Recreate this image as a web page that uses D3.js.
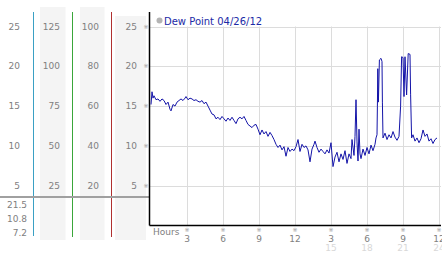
<!DOCTYPE html>
<html>
<head>
	<script src="https://cdn.jsdelivr.net/npm/d3@7"></script>
	<style>
		body { margin: 0; background: #fff; }
		text { font-family: "DejaVu Sans", Verdana, sans-serif; }
	</style>
</head>
<body>
	<div id="chart"></div>
	<script>
		/* DATA */
		var title = "Dew Point 04/26/12";
		var scaleTicks = [25, 20, 15, 10, 5];        // first and last column
		var col2Ticks = [125, 100, 75, 50, 25];
		var col3Ticks = [100, 80, 60, 40, 20];
		var footerLabels = ["21.5", "10.8", "7.2"];
		var hourTicks = [3, 6, 9, 12, 15, 18, 21, 24];

		// minutes after midnight
		var minutes = [0, 5, 10, 15, 25, 35, 45, 55, 65, 75, 85, 95, 100, 110, 120, 130, 140, 150, 160, 170,
			175, 185, 195, 205, 215, 225, 235, 245, 255, 265, 275, 285, 295, 305, 315, 325, 335, 345, 355, 365,
			375, 385, 395, 405, 415, 425, 435, 445, 455, 465, 475, 485, 495, 505, 515, 525, 535, 545, 555, 565,
			575, 585, 595, 605, 615, 625, 635, 645, 655, 665, 675, 685, 695, 705, 715, 725, 735, 745, 755, 765,
			775, 785, 795, 805, 815, 820, 830, 840, 850, 860, 870, 880, 890, 900, 910, 920, 930, 940, 950, 960,
			970, 980, 990, 1000, 1005, 1015, 1020, 1025, 1030, 1035, 1040, 1045, 1050, 1060, 1070, 1080, 1090, 1100, 1110, 1120,
			1125, 1130, 1132, 1134, 1137, 1142, 1150, 1155, 1157, 1160, 1170, 1180, 1190, 1200, 1210, 1220, 1230, 1240, 1248, 1253,
			1260, 1265, 1270, 1278, 1286, 1295, 1298, 1303, 1310, 1320, 1330, 1340, 1350, 1360, 1370, 1380, 1390, 1400, 1410, 1420, 1430];
		var dewPoint = [15.2, 16.8, 16.0, 16.3, 15.8, 15.9, 15.6, 15.9, 15.7, 15.2, 15.5, 14.6, 14.4, 15.2, 15.0, 15.5, 15.7, 15.9, 15.7, 16.0,
			16.2, 15.8, 16.0, 15.9, 15.7, 15.8, 15.6, 15.5, 15.7, 15.3, 15.5, 15.0, 14.5, 14.0, 13.9, 13.4, 13.6, 13.3, 13.7, 13.4,
			13.1, 13.5, 13.2, 13.6, 13.2, 12.8, 13.4, 13.6, 13.4, 13.7, 13.2, 12.7, 12.5, 12.3, 12.6, 12.7, 12.1, 11.4, 12.0, 11.5,
			11.8, 11.2, 11.7, 11.3, 10.8, 10.2, 9.8, 10.1, 9.5, 9.9, 8.7, 9.8, 9.3, 9.6, 9.4, 9.9, 10.8, 9.3, 10.2, 9.8,
			10.0, 9.5, 8.0, 9.6, 10.2, 10.6, 9.8, 9.2, 9.6, 9.3, 9.0, 9.5, 9.1, 10.4, 7.4, 8.6, 9.2, 8.0, 9.0, 8.3,
			9.4, 7.8, 9.0, 8.4, 10.8, 8.8, 11.2, 15.8, 10.5, 8.1, 12.1, 9.0, 8.4, 9.6, 8.8, 9.8, 9.0, 10.1, 9.4, 10.2,
			11.0, 11.4, 15.0, 19.7, 15.5, 20.8, 21.0, 20.6, 15.5, 11.0, 11.6, 10.8, 11.4, 11.0, 11.8, 11.1, 10.7, 11.2, 15.0, 21.2,
			21.1, 16.2, 21.2, 16.4, 21.6, 21.5, 16.5, 11.0, 11.4, 10.6, 11.0, 10.4, 10.9, 12.0, 11.2, 11.5, 10.6, 10.9, 10.3, 10.8, 11.0];

		var series = minutes.map(function(m, i) { return { t: m, v: dewPoint[i] }; });

		/* LAYOUT */
		var width = 442, height = 253;
		var plotLeft = 149.5, plotRight = 441, plotTop = 12, plotBottom = 225.5;

		var svg = d3.select("#chart").append("svg")
			.attr("width", width)
			.attr("height", height);

		var y = d3.scaleLinear().domain([0, 25]).range([225.5, 26.5]);
		var x = d3.scaleLinear().domain([0, 1440]).range([151, 439]);

		/* LEFT SCALE COLUMNS */
		var columns = [
			{ ticks: scaleTicks, max: 25, textX: 20, bg: null },
			{ ticks: col2Ticks, max: 125, textX: 60, bg: [40, 65.5, 7] },
			{ ticks: col3Ticks, max: 100, textX: 99, bg: [80, 104.5, 7] },
			{ ticks: scaleTicks, max: 25, textX: 137, bg: [115, 146, 16] }
		];

		columns.forEach(function(c) {
			if (c.bg) {
				svg.append("rect")
					.attr("x", c.bg[0]).attr("y", c.bg[2])
					.attr("width", c.bg[1] - c.bg[0])
					.attr("height", 240 - c.bg[2])
					.attr("fill", "#f4f4f4");
			}
		});

		var separators = [[33.5, "#3aa0c4", 236], [72.5, "#3aa63a", 237], [111.5, "#b03030", 237]];
		svg.selectAll("line.sep")
			.data(separators)
			.enter().append("line")
			.attr("x1", function(d) { return d[0]; })
			.attr("x2", function(d) { return d[0]; })
			.attr("y1", 12)
			.attr("y2", function(d) { return d[2]; })
			.attr("stroke", function(d) { return d[1]; })
			.attr("stroke-width", 1);

		columns.forEach(function(c) {
			var s = d3.scaleLinear().domain([0, c.max]).range(y.range());
			svg.append("g").selectAll("text")
				.data(c.ticks)
				.enter().append("text")
				.attr("x", c.textX)
				.attr("y", function(d) { return s(d); })
				.attr("dy", "0.35em")
				.attr("text-anchor", "end")
				.attr("font-size", 9)
				.attr("fill", "#808080")
				.text(function(d) { return d; });
		});

		// little marks next to the dew point scale
		svg.append("g").selectAll("text")
			.data(scaleTicks)
			.enter().append("text")
			.attr("x", 146)
			.attr("y", function(d) { return y(d); })
			.attr("dy", "0.35em")
			.attr("text-anchor", "middle")
			.attr("font-size", 6)
			.attr("fill", "#999")
			.text("\u203b");

		svg.append("line")
			.attr("x1", 0).attr("x2", plotLeft)
			.attr("y1", 197).attr("y2", 197)
			.attr("stroke", "#a0a0a0")
			.attr("stroke-width", 2);

		svg.append("g").selectAll("text")
			.data(footerLabels)
			.enter().append("text")
			.attr("x", 27)
			.attr("y", function(d, i) { return 205 + i * 14; })
			.attr("dy", "0.35em")
			.attr("text-anchor", "end")
			.attr("font-size", 9)
			.attr("fill", "#808080")
			.text(function(d) { return d; });

		/* GRID */
		svg.append("g").selectAll("line")
			.data(scaleTicks)
			.enter().append("line")
			.attr("x1", plotLeft).attr("x2", plotRight)
			.attr("y1", function(d) { return Math.round(y(d)) + 0.5; })
			.attr("y2", function(d) { return Math.round(y(d)) + 0.5; })
			.attr("stroke", "#dcdcdc");

		svg.append("g").selectAll("line")
			.data(hourTicks)
			.enter().append("line")
			.attr("x1", function(d) { return Math.round(x(d * 60)) + 0.5; })
			.attr("x2", function(d) { return Math.round(x(d * 60)) + 0.5; })
			.attr("y1", y(25))
			.attr("y2", plotBottom)
			.attr("stroke", "#dcdcdc");

		/* AXES */
		svg.append("line")
			.attr("x1", plotLeft).attr("x2", plotLeft)
			.attr("y1", plotTop).attr("y2", plotBottom)
			.attr("stroke", "#000").attr("stroke-width", 1.5);
		svg.append("line")
			.attr("x1", plotLeft).attr("x2", plotRight)
			.attr("y1", plotBottom).attr("y2", plotBottom)
			.attr("stroke", "#000").attr("stroke-width", 1.5);

		svg.append("text")
			.attr("x", 153).attr("y", 232)
			.attr("dy", "0.35em")
			.attr("font-size", 9)
			.attr("fill", "#808080")
			.text("Hours");

		var xt = svg.append("g").selectAll("g")
			.data(hourTicks)
			.enter().append("g")
			.attr("transform", function(d) { return "translate(" + x(d * 60) + ",0)"; });
		xt.append("text")
			.attr("y", 230).attr("dy", "0.35em")
			.attr("text-anchor", "middle")
			.attr("font-size", 6)
			.attr("fill", "#999")
			.text("\u203b");
		xt.append("text")
			.attr("y", 238.5).attr("dy", "0.35em")
			.attr("text-anchor", "middle")
			.attr("font-size", 9)
			.attr("fill", "#808080")
			.text(function(d) { return d % 12 || 12; });
		xt.filter(function(d) { return d > 12; }).append("text")
			.attr("y", 248).attr("dy", "0.35em")
			.attr("text-anchor", "middle")
			.attr("font-size", 9)
			.attr("fill", "#d8d8d8")
			.text(function(d) { return d; });

		/* LINE */
		var line = d3.line()
			.x(function(d) { return x(d.t); })
			.y(function(d) { return y(d.v); });

		svg.append("path")
			.datum(series)
			.attr("d", line)
			.attr("fill", "none")
			.attr("stroke", "#1414a8")
			.attr("stroke-width", 1);

		/* LEGEND */
		svg.append("circle")
			.attr("cx", 159.5).attr("cy", 20.5).attr("r", 3)
			.attr("fill", "#b4b4b4");
		svg.append("text")
			.attr("x", 164).attr("y", 21)
			.attr("dy", "0.35em")
			.attr("font-size", 10)
			.attr("fill", "#1c2aa6")
			.text(title);
	</script>
</body>
</html>
